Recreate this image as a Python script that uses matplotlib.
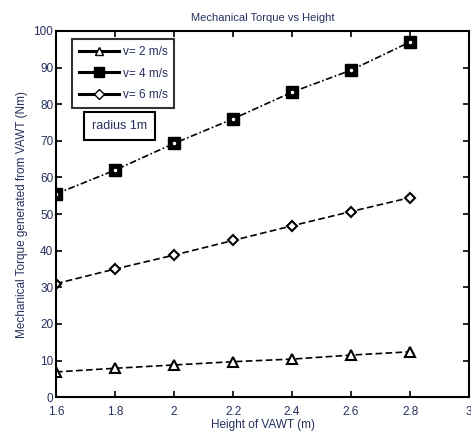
import matplotlib
matplotlib.use("Agg")
import matplotlib.pyplot as plt
from matplotlib.lines import Line2D

heights = [1.6, 1.8, 2.0, 2.2, 2.4, 2.6, 2.8]
torque_v2 = [6.9, 7.9, 8.8, 9.7, 10.4, 11.5, 12.4]
torque_v4 = [55.5, 62.0, 69.3, 76.0, 83.3, 89.3, 97.0]
torque_v6 = [31.0, 35.0, 38.8, 42.8, 46.8, 50.7, 54.5]
labels = ["v= 2 m/s", "v= 4 m/s", "v= 6 m/s"]
xticks = [1.6, 1.8, 2, 2.2, 2.4, 2.6, 2.8, 3]
xticklabels = ["1.6", "1.8", "2", "2.2", "2.4", "2.6", "2.8", "3"]
yticks = list(range(0, 101, 10))

txt = "#26305e"
plt.rcParams['font.family'] = ['Liberation Sans', 'DejaVu Sans']

fig = plt.figure(figsize=(4.71, 4.36), dpi=100)
ax = fig.add_axes([0.119, 0.089, 0.877, 0.84])

ax.plot(heights, torque_v2, linestyle=(0, (4, 2)), color='black', lw=1.2,
        marker='^', markersize=7, markerfacecolor='white', markeredgecolor='black', markeredgewidth=1.5)
ax.plot(heights, torque_v4, linestyle=(0, (4, 1.5, 1, 1.5)), color='black', lw=1.2,
        marker='s', markersize=8, markerfacecolor='black', markeredgecolor='black')
ax.plot(heights, torque_v4, linestyle='none', marker='o', markersize=1.5,
        markerfacecolor='white', markeredgecolor='white')
ax.plot(heights, torque_v6, linestyle=(0, (4, 2)), color='black', lw=1.2,
        marker='D', markersize=5.5, markerfacecolor='white', markeredgecolor='black', markeredgewidth=1.5)

ax.set_xlim(1.6, 3)
ax.set_ylim(0, 100)
ax.set_xticks(xticks)
ax.set_xticklabels(xticklabels)
ax.set_yticks(yticks)
ax.tick_params(direction='in', top=True, right=True, length=4, width=1.2,
               labelsize=8.5, colors='black', labelcolor=txt, pad=2)
ax.tick_params(axis='x', pad=6)
for s in ax.spines.values():
    s.set_linewidth(1.5)

ax.set_title("Mechanical Torque vs Height", fontsize=8, color=txt, pad=7)
ax.set_xlabel("Height of VAWT (m)", fontsize=8.5, color=txt, labelpad=1)
ax.set_ylabel("Mechanical Torque generated from VAWT (Nm)", fontsize=8.5, color=txt, labelpad=4)

handles = [
    Line2D([], [], color='black', lw=2.2, marker='^', markersize=6, markerfacecolor='white'),
    Line2D([], [], color='black', lw=2.2, marker='s', markersize=7, markerfacecolor='black'),
    Line2D([], [], color='black', lw=2.2, marker='D', markersize=5, markerfacecolor='white'),
]
leg = ax.legend(handles, labels, loc='upper left', bbox_to_anchor=(0.038, 0.978),
                fontsize=8.5, frameon=True, fancybox=False, edgecolor='black',
                handlelength=3.4, handletextpad=0.3, borderpad=0.6, labelspacing=0.8,
                borderaxespad=0)
leg.get_frame().set_linewidth(1.5)
for t in leg.get_texts():
    t.set_color(txt)

ax.text(0.153, 0.74, "radius 1m", transform=ax.transAxes, fontsize=9, color=txt,
        ha='center', va='center',
        bbox=dict(boxstyle='square,pad=0.65', facecolor='white', edgecolor='black', linewidth=1.5))

fig.savefig("out.png", dpi=100)
